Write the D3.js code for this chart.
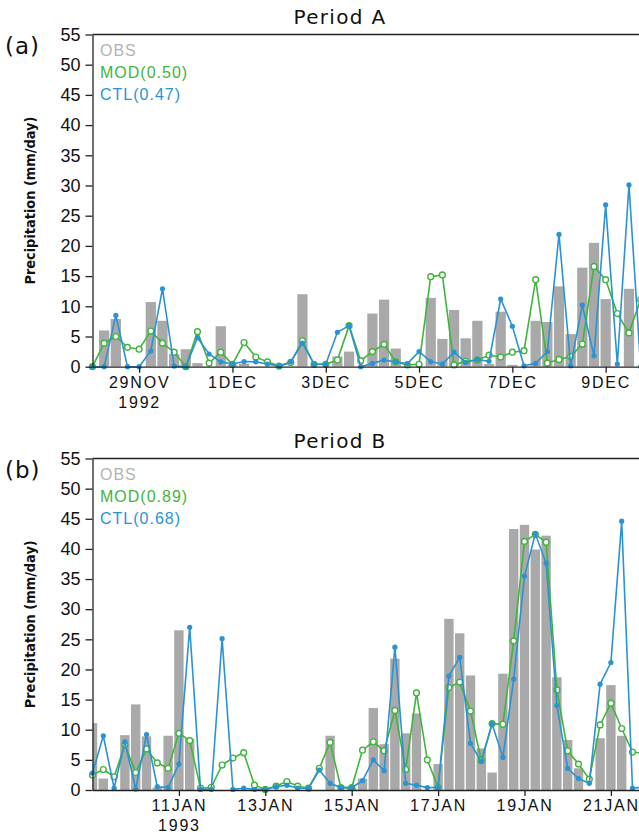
<!DOCTYPE html>
<html>
<head>
<meta charset="utf-8">
<script src="https://cdn.jsdelivr.net/npm/d3@7"></script>
<style>
  body { margin: 0; background: #fff; }
  svg { display: block; font-family: "Liberation Sans", Arial, sans-serif; }
</style>
</head>
<body>
<svg id="chart" width="639" height="836"></svg>
<script>
// 6-hourly precipitation (mm/day), period A starts 28 Nov 1992 00Z
var obsA = [0, 6.0, 7.9, 0, 0, 10.7, 7.6, 2.1,
            2.9, 0.6, 0, 6.7, 0.3, 0.5, 0, 0,
            0, 0, 12.0, 0, 0, 1.7, 2.5, 0,
            8.8, 11.1, 3.0, 0, 0, 11.4, 4.6, 9.4,
            4.7, 7.6, 0.45, 9.1, 0.3, 0, 7.6, 7.4,
            13.3, 5.4, 16.4, 20.5, 11.2, 0, 12.9, 0];
var modA = [0, 3.9, 5.0, 3.2, 2.9, 5.9, 3.9, 2.4,
            0, 5.8, 0.6, 2.4, 0.4, 4.0, 1.6, 0.8,
            0.1, 0.7, 4.3, 0.4, 0.4, 1.1, 6.8, 1.0,
            2.5, 3.7, 0.8, 0.3, 0.4, 14.9, 15.2, 0.3,
            0.9, 1.1, 1.9, 1.6, 2.4, 2.65, 14.4, 0.6,
            1.2, 1.7, 3.75, 16.6, 14.4, 8.8, 5.6, 11.1];
var ctlA = [0, 0, 8.5, 0, 0, 2.6, 12.9, 0.1,
            0, 4.8, 2.1, 0.8, 0.45, 0.85, 0.8, 0.45,
            0.1, 0.8, 3.9, 0.4, 0.4, 5.7, 6.8, 0,
            0.55, 1.1, 0.8, 0.5, 2.5, 0.85, 0.45, 2.4,
            0.7, 1.2, 0.9, 11.2, 6.7, 0.15, 0.55, 2.5,
            21.9, 0.15, 10.2, 1.8, 26.8, 0.45, 30.1, 0];

// period B starts 9 Jan 1993 00Z
var obsB = [11.1, 1.9, 0, 9.1, 14.2, 8.9, 0.4, 9.0,
            26.5, 8.5, 0, 0, 0, 0, 0, 0,
            0, 0, 0, 0, 0, 0, 9.0, 0,
            0.4, 1.9, 13.6, 7.6, 21.8, 9.4, 12.7, 0,
            4.3, 28.4, 26.0, 19.0, 6.9, 2.9, 19.3, 43.3,
            44.0, 39.9, 42.2, 18.7, 8.3, 3.6, 0, 8.6,
            17.4, 9.0, 0, 0];
var modB = [2.5, 3.4, 2.2, 7.5, 2.9, 6.8, 4.5, 3.6,
            9.4, 8.2, 0.3, 0.45, 4.15, 5.3, 6.2, 0.8,
            0.1, 0.65, 1.4, 0.65, 0.3, 3.6, 7.9, 0.4,
            0.4, 6.6, 8.0, 6.5, 13.2, 3.4, 16.1, 5.0,
            0.45, 17.0, 17.9, 13.1, 4.9, 11.0, 10.9, 24.75,
            41.25, 42.4, 41.1, 16.6, 6.5, 4.3, 1.8, 10.8,
            14.4, 10.2, 6.3, 6.1];
var ctlB = [2.8, 9.0, 0.3, 8.0, 0.15, 9.2, 0.55, 0.4,
            4.3, 27.0, 0.1, 0.1, 25.1, 0.1, 0.3, 0.1,
            0.1, 0.55, 0.8, 0.3, 0.3, 3.3, 1.1, 0.4,
            0.4, 1.55, 5.0, 3.2, 23.7, 1.1, 0.8, 0.4,
            0.45, 18.9, 22.0, 7.75, 4.7, 11.0, 5.4, 18.4,
            35.5, 42.5, 37.65, 14.0, 3.6, 1.9, 1.1, 17.55,
            21.15, 44.6, 0.3, 0.45];

var ticksA = ['29NOV', '1DEC', '3DEC', '5DEC', '7DEC', '9DEC'];
var ticksB = ['11JAN', '13JAN', '15JAN', '17JAN', '19JAN', '21JAN'];
var legendA = ['OBS', 'MOD(0.50)', 'CTL(0.47)'];
var legendB = ['OBS', 'MOD(0.89)', 'CTL(0.68)'];
var yTicks = d3.range(0, 56, 5);

var colors = { obs: '#a9a9a9', obsText: '#b3b3b3', mod: '#3fb53c', ctl: '#2a93d3' };

var svg = d3.select('#chart');
var parseTick = d3.utcParse('%d%b%Y');

var drawPanel = function (p) {

    var left = 92.5;
    var days = (p.end - p.start) / 864e5;

    var x = d3.scaleUtc().domain([p.start, p.end]).range([left, left + days * p.dayPx]);
    var y = d3.scaleLinear().domain([0, 55]).range([p.bottom, p.top]);

    var times = p.obs.map(function (d, i) { return d3.utcHour.offset(p.start, 6 * i); });

    var g = svg.append('g');

    g.append('clipPath').attr('id', p.id + '-clip')
        .append('rect')
        .attr('x', left).attr('y', p.top)
        .attr('width', 700).attr('height', p.bottom - p.top);

    // OBS bars, one per 6-hour slot
    g.append('g').attr('clip-path', 'url(#' + p.id + '-clip)')
        .selectAll('rect').data(p.obs).join('rect')
        .attr('x', function (d, i) { return x(d3.utcHour.offset(times[i], -3)) + 0.7; })
        .attr('width', function (d, i) {
            return x(d3.utcHour.offset(times[i], 3)) - x(d3.utcHour.offset(times[i], -3)) - 1.4;
        })
        .attr('y', function (d) { return y(d); })
        .attr('height', function (d) { return y(0) - y(d); })
        .attr('fill', colors.obs);

    var line = d3.line()
        .x(function (d, i) { return x(times[i]); })
        .y(function (d) { return y(d); });

    // MOD: open circles
    g.append('path').datum(p.mod)
        .attr('d', line).attr('fill', 'none')
        .attr('stroke', colors.mod).attr('stroke-width', 1.6);
    g.append('g').selectAll('circle').data(p.mod).join('circle')
        .attr('cx', function (d, i) { return x(times[i]); })
        .attr('cy', function (d) { return y(d); })
        .attr('r', 2.9)
        .attr('fill', '#fff').attr('stroke', colors.mod).attr('stroke-width', 1.4);

    // CTL: filled dots
    g.append('path').datum(p.ctl)
        .attr('d', line).attr('fill', 'none')
        .attr('stroke', colors.ctl).attr('stroke-width', 1.6);
    g.append('g').selectAll('circle').data(p.ctl).join('circle')
        .attr('cx', function (d, i) { return x(times[i]); })
        .attr('cy', function (d) { return y(d); })
        .attr('r', 2.6)
        .attr('fill', colors.ctl);

    // frame top
    g.append('line')
        .attr('x1', left).attr('x2', 639)
        .attr('y1', p.top).attr('y2', p.top)
        .attr('stroke', '#222').attr('stroke-width', 1.3);

    // y axis
    var yAxis = g.append('g')
        .attr('transform', 'translate(' + left + ',0)')
        .call(d3.axisLeft(y).tickValues(yTicks).tickSize(7).tickSizeOuter(0).tickPadding(5));
    yAxis.selectAll('text').attr('font-size', 18).attr('fill', '#111')
        .attr('font-family', '"Liberation Sans", Arial, sans-serif');
    yAxis.selectAll('line, path').attr('stroke', '#222').attr('stroke-width', 1.3);

    // x axis
    var tickDates = p.ticks.map(function (t) { return parseTick(t + p.year); });
    var xAxis = g.append('g')
        .attr('transform', 'translate(0,' + p.bottom + ')')
        .call(d3.axisBottom(x).tickValues(tickDates)
            .tickFormat(function (d, i) { return p.ticks[i]; })
            .tickSize(6).tickSizeOuter(0).tickPadding(4));
    xAxis.selectAll('line, path').attr('stroke', '#222').attr('stroke-width', 1.3);
    xAxis.selectAll('text')
        .attr('font-size', 16).attr('fill', '#111')
        .attr('font-family', '"Liberation Sans", Arial, sans-serif')
        .style('letter-spacing', '1.8px');
    xAxis.select('.tick text')
        .append('tspan').attr('x', 0).attr('dy', '1.25em').text(p.year);

    // y label
    var midY = (p.top + p.bottom) / 2;
    g.append('text')
        .attr('transform', 'translate(35,' + midY + ') rotate(-90)')
        .attr('text-anchor', 'middle')
        .attr('font-family', '"Liberation Sans Narrow", "DejaVu Sans Condensed", "Liberation Sans", sans-serif')
        .attr('font-weight', 'bold')
        .attr('font-size', 14)
        .attr('textLength', 168)
        .attr('lengthAdjust', 'spacingAndGlyphs')
        .attr('fill', '#111')
        .text('Precipitation (mm/day)');

    // title and panel letter
    g.append('text')
        .attr('x', 340).attr('y', p.top - 10.5)
        .attr('text-anchor', 'middle')
        .attr('font-family', '"DejaVu Sans", sans-serif')
        .attr('font-size', 20)
        .style('letter-spacing', '1.3px')
        .attr('fill', '#111')
        .text(p.title);
    g.append('text')
        .attr('x', 5).attr('y', p.top + 19)
        .attr('font-family', '"DejaVu Sans", sans-serif')
        .attr('font-size', 23)
        .style('letter-spacing', '1px')
        .attr('fill', '#111')
        .text(p.letter);

    // legend
    var legendColors = [colors.obsText, colors.mod, colors.ctl];
    g.append('g').selectAll('text').data(p.legend).join('text')
        .attr('x', 100)
        .attr('y', function (d, i) { return p.top + 21.5 + i * 22; })
        .attr('font-size', 16)
        .style('letter-spacing', '1px')
        .attr('fill', function (d, i) { return legendColors[i]; })
        .text(function (d) { return d; });
};

drawPanel({
    id: 'pa', title: 'Period A', letter: '(a)', year: '1992',
    start: Date.UTC(1992, 10, 28), end: Date.UTC(1992, 11, 10, 12), dayPx: 46.65,
    top: 34.5, bottom: 366.7,
    obs: obsA, mod: modA, ctl: ctlA, ticks: ticksA, legend: legendA
});

drawPanel({
    id: 'pb', title: 'Period B', letter: '(b)', year: '1993',
    start: Date.UTC(1993, 0, 9), end: Date.UTC(1993, 0, 22), dayPx: 43.2,
    top: 458.5, bottom: 790,
    obs: obsB, mod: modB, ctl: ctlB, ticks: ticksB, legend: legendB
});
</script>
</body>
</html>
